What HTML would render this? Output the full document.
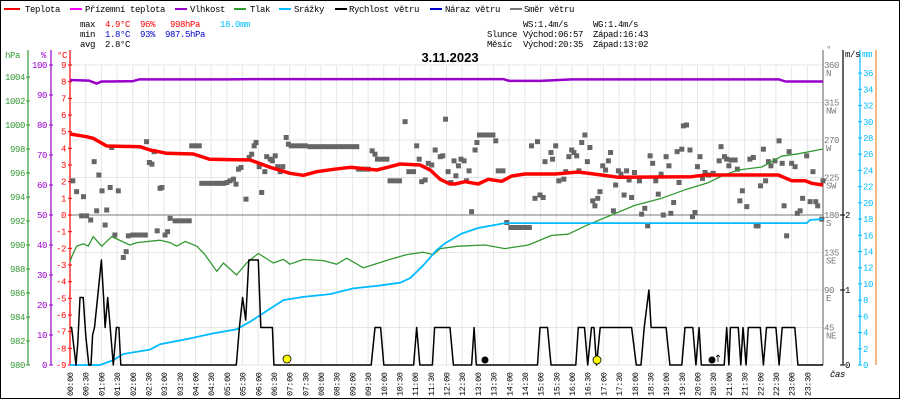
<!DOCTYPE html>
<html><head><meta charset="utf-8"><style>
html,body{margin:0;padding:0;background:#fff;}
svg{display:block;font-family:"Liberation Mono",monospace;}
.t{font-size:9px;letter-spacing:-0.4px;}
</style></head><body>
<svg id="chart" width="900" height="400" xmlns="http://www.w3.org/2000/svg">
<rect x="0.5" y="0.5" width="899" height="398" fill="#fff" stroke="#000"/>
<g id="grid"></g>
<g id="legend" class="t">
 <g><rect x="4" y="8" width="16" height="2" fill="#f00"/><text x="25" y="12">Teplota</text></g>
 <g><rect x="70" y="8" width="12" height="2" fill="#f0f"/><text x="85" y="12">Přízemní teplota</text></g>
 <g><rect x="175" y="8" width="12" height="2" fill="#90c"/><text x="190" y="12">Vlhkost</text></g>
 <g><rect x="234" y="8" width="12" height="2" fill="#393"/><text x="250" y="12">Tlak</text></g>
 <g><rect x="279" y="8" width="12" height="2" fill="#0bf"/><text x="294" y="12">Srážky</text></g>
 <g><rect x="335" y="8" width="12" height="2" fill="#000"/><text x="349" y="12">Rychlost větru</text></g>
 <g><rect x="430" y="8" width="12" height="2" fill="#00c"/><text x="445" y="12">Náraz větru</text></g>
 <g><rect x="510" y="8" width="12" height="2" fill="#777"/><text x="524" y="12">Směr větru</text></g>
</g>
<g class="t">
 <text x="80" y="27">max</text><text x="105" y="27" fill="#f00">4.9°C</text><text x="140" y="27" fill="#f00">96%</text><text x="170" y="27" fill="#f00">998hPa</text><text x="220" y="27" fill="#0bf">18.0mm</text>
 <text x="80" y="37">min</text><text x="105" y="37" fill="#00c">1.8°C</text><text x="140" y="37" fill="#00c">93%</text><text x="165" y="37" fill="#00c">987.5hPa</text>
 <text x="80" y="47">avg</text><text x="105" y="47">2.8°C</text>
 <text x="523" y="27">WS:1.4m/s</text><text x="593" y="27">WG:1.4m/s</text>
 <text x="487" y="37">Slunce</text><text x="523" y="37">Východ:06:57</text><text x="593" y="37">Západ:16:43</text>
 <text x="487" y="47">Měsíc</text><text x="523" y="47">Východ:20:35</text><text x="593" y="47">Západ:13:02</text>
</g>
<text x="450" y="62" text-anchor="middle" font-family="Liberation Sans,sans-serif" font-weight="bold" font-size="13">3.11.2023</text>
<g id="axes" class="t"></g>
<g id="series"></g>
<g>
 <circle cx="287" cy="359" r="4" fill="#ff0" stroke="#000" stroke-width="0.8"/>
 <circle cx="597" cy="360" r="4" fill="#ff0" stroke="#000" stroke-width="0.8"/>
 <circle cx="485" cy="360" r="3.5" fill="#000"/>
 <circle cx="712" cy="360" r="3.5" fill="#000"/>
 <path d="M718 362 L718 355 M716 357 L718 355 L720 357" stroke="#000" fill="none" stroke-width="0.8"/>
</g>
</svg>
<script>
const tempData=[[0,4.86],[0.53,4.7],[0.74,4.6],[1.17,4.14],[2.23,4.1],[2.55,3.9],[3.08,3.7],[3.93,3.66],[4.46,3.34],[5.74,3.3],[6.38,2.86],[7.01,2.5],[7.44,2.38],[7.86,2.6],[8.4,2.74],[8.93,2.86],[9.78,2.7],[10.2,2.9],[10.52,3.06],[11.16,3.0],[11.48,2.7],[11.8,2.14],[12.11,1.86],[12.27,1.86],[12.59,2.0],[13.01,1.86],[13.33,2.14],[13.76,2.02],[14.08,2.34],[14.5,2.46],[15.46,2.46],[16.2,2.58],[16.94,2.4],[17.48,2.26],[19.81,2.3],[20.24,2.4],[22.58,2.4],[23.0,2.06],[23.43,2.06],[23.64,1.9],[24,1.8]];
const humData=[[0,95],[0.6,94.8],[0.85,93.8],[1.0,94.5],[1.2,94.5],[2.0,94.6],[2.2,95.2],[5.0,95.2],[6.0,95.3],[9.0,95.3],[13.8,95.3],[14.0,94.7],[15.0,94.7],[16.0,95.2],[22.6,95.2],[22.8,94.5],[24,94.5]];
const presData=[[0,988.6],[0.05,989.0],[0.21,989.9],[0.43,990.1],[0.58,989.9],[0.74,990.7],[1.01,989.9],[1.33,990.7],[1.91,990.0],[2.13,990.2],[2.87,990.4],[3.19,990.2],[3.4,989.9],[3.67,990.3],[4.04,989.9],[4.3,989.2],[4.68,987.8],[4.89,988.5],[5.31,987.5],[5.63,988.5],[6.0,989.3],[6.48,988.5],[6.8,988.8],[7.01,988.4],[7.44,988.8],[8.08,988.7],[8.5,988.4],[8.82,988.9],[9.35,988.1],[10.2,988.8],[10.73,989.2],[11.26,989.4],[11.58,989.2],[11.8,989.7],[12.37,989.9],[13.23,990.0],[13.86,989.7],[14.61,990.0],[15.35,990.8],[15.88,990.9],[16.52,991.7],[17.26,992.5],[18.0,993.3],[18.86,993.9],[19.6,994.6],[20.35,995.2],[20.77,995.75],[21.3,996.25],[22.05,996.5],[22.68,997.4],[23.21,997.6],[24,998.0]];
const rainData=[[0,0],[0.96,0],[1.38,0.6],[1.7,1.36],[2.55,1.9],[2.87,2.55],[3.72,3.2],[4.57,3.9],[5.31,4.4],[5.74,5.34],[6.16,6.4],[6.8,8.0],[7.44,8.4],[8.29,8.75],[9.03,9.45],[9.78,9.75],[10.52,10.15],[10.84,10.7],[11.26,12.3],[11.69,14.2],[11.95,15.0],[12.48,16.2],[13.01,16.9],[13.86,17.5],[23.48,17.5],[23.59,17.9],[24,18.0]];
const windData=[[0,0.5],[0.05,0.5],[0.12,0.25],[0.19,0],[0.25,0.3],[0.32,0.9],[0.42,0.9],[0.5,0.4],[0.6,0],[0.67,0],[0.72,0.4],[0.78,0.5],[0.88,0.9],[1.0,1.4],[1.07,0.9],[1.12,0.5],[1.2,0.9],[1.28,0.5],[1.38,0],[1.48,0.5],[1.56,0.5],[1.62,0],[5.3,0],[5.4,0.5],[5.5,0.9],[5.6,0.6],[5.7,1.4],[6.0,1.4],[6.08,0.5],[6.45,0.5],[6.5,0],[9.6,0],[9.72,0.5],[9.9,0.5],[10.0,0],[10.95,0],[11.05,0.5],[11.15,0],[11.55,0],[11.62,0.5],[12.11,0.5],[12.22,0],[12.8,0],[12.88,0.5],[12.95,0],[14.9,0],[14.98,0.5],[15.22,0.5],[15.33,0],[16.12,0],[16.2,0.5],[16.4,0.5],[16.5,0],[16.62,0.5],[16.7,0.5],[16.78,0],[16.9,0.5],[17.9,0.5],[18.05,0],[18.2,0],[18.3,0.5],[18.45,1.0],[18.52,0.5],[19.0,0.5],[19.12,0],[19.5,0],[19.6,0.5],[19.85,0.5],[19.95,0],[20.05,0.5],[20.12,0],[20.85,0],[20.93,0.5],[21.0,0],[21.05,0.5],[21.3,0.5],[21.38,0],[21.45,0.5],[21.55,0],[21.62,0.5],[22.0,0.5],[22.1,0],[22.2,0.5],[22.5,0.5],[22.6,0],[22.7,0.5],[23.1,0.5],[23.2,0],[24,0]];
const dirData=[[0.09,221],[0.21,208],[0.43,202],[0.37,179],[0.53,179],[0.66,174],[0.77,244],[0.85,185],[0.92,228],[1.02,209],[1.12,168],[1.17,186],[1.28,213],[1.33,261],[1.43,156],[1.54,209],[1.7,129],[1.79,136],[1.86,155],[2.0,156],[2.1,156],[2.2,156],[2.3,156],[2.4,156],[2.44,268],[2.53,243],[2.61,241],[2.68,256],[2.78,161],[2.87,212],[2.93,213],[3.03,156],[3.11,160],[3.19,176],[3.35,173],[3.5,173],[3.65,173],[3.8,173],[3.88,263],[4.0,263],[4.12,263],[4.2,218],[4.35,218],[4.5,218],[4.65,218],[4.8,218],[4.9,218],[5.0,219],[5.1,221],[5.21,223],[5.29,217],[5.37,235],[5.45,237],[5.61,199],[5.71,249],[5.79,253],[5.87,263],[5.93,267],[6.03,238],[6.11,207],[6.21,232],[6.27,250],[6.38,247],[6.45,245],[6.54,251],[6.62,238],[6.7,232],[6.78,238],[6.89,273],[6.96,265],[7.05,263],[7.2,263],[7.35,263],[7.5,263],[7.65,262],[7.8,262],[7.95,262],[8.1,262],[8.25,262],[8.4,262],[8.55,262],[8.7,262],[8.85,262],[9.0,262],[9.14,262],[9.2,235],[9.35,235],[9.5,235],[9.63,257],[9.72,253],[9.8,247],[9.95,247],[10.1,247],[10.2,221],[10.35,221],[10.5,221],[10.68,292],[10.8,232],[10.95,232],[11.05,263],[11.13,247],[11.21,220],[11.32,222],[11.42,242],[11.53,240],[11.64,258],[11.8,250],[11.88,251],[11.97,295],[12.05,232],[12.14,219],[12.24,245],[12.3,227],[12.38,239],[12.46,247],[12.56,245],[12.64,221],[12.72,233],[12.8,184],[12.91,258],[12.97,267],[13.05,276],[13.2,276],[13.35,276],[13.48,276],[13.57,269],[13.65,233],[13.8,233],[13.92,171],[14.05,165],[14.2,165],[14.35,165],[14.5,165],[14.64,165],[14.71,263],[14.82,200],[14.9,268],[14.98,204],[15.08,201],[15.14,244],[15.33,255],[15.38,247],[15.48,263],[15.58,221],[15.74,223],[15.8,232],[15.9,250],[15.99,258],[16.06,255],[16.15,251],[16.22,233],[16.31,267],[16.41,276],[16.49,244],[16.57,261],[16.66,197],[16.73,191],[16.82,200],[16.89,208],[16.98,239],[17.07,234],[17.16,245],[17.23,255],[17.32,185],[17.39,216],[17.48,233],[17.56,229],[17.66,204],[17.74,233],[17.82,222],[17.9,201],[17.99,231],[18.15,221],[18.22,181],[18.32,188],[18.41,167],[18.49,251],[18.57,242],[18.67,221],[18.75,205],[18.84,229],[18.91,180],[19.0,250],[19.09,239],[19.15,182],[19.24,195],[19.35,256],[19.41,219],[19.5,259],[19.55,287],[19.65,288],[19.76,258],[19.84,178],[19.92,183],[20.0,238],[20.08,250],[20.16,224],[20.24,231],[20.35,228],[20.5,230],[20.69,245],[20.75,262],[20.86,250],[20.93,247],[21.0,239],[21.07,246],[21.2,246],[21.27,235],[21.35,197],[21.43,209],[21.57,190],[21.67,247],[21.78,249],[21.87,167],[21.93,167],[22.01,215],[22.1,259],[22.17,221],[22.26,244],[22.34,239],[22.47,245],[22.6,269],[22.7,242],[22.76,191],[22.84,155],[22.92,256],[23.0,242],[23.11,238],[23.18,182],[23.27,185],[23.35,200],[23.48,251],[23.59,196],[23.68,232],[23.77,196],[23.83,191],[23.96,175],[24.0,221]];
const hpaTicks=[980,982,984,986,988,990,992,994,996,998,1000,1002,1004];
const pctTicks=[0,10,20,30,40,50,60,70,80,90,100];
const cTicks=[-9,-8,-7,-6,-5,-4,-3,-2,-1,0,1,2,3,4,5,6,7,8,9];
const dirTicks=[[360,'N'],[315,'NW'],[270,'W'],[225,'SW'],[180,'S'],[135,'SE'],[90,'E'],[45,'NE']];
const msTicks=[0,1,2];
const mmTicks=[0,2,4,6,8,10,12,14,16,18,20,22,24,26,28,30,32,34,36];

const X0=70,X1=823,Y0=65,Y1=365;
const xS=h=>X0+h*(X1-X0)/24;
const yC=c=>215-c*(300/18);
const yP=p=>Y1-(p-980)*12;
const yH=v=>Y1-v*3;
const yD=d=>Y1-d*(300/360);
const yM=v=>Y1-v*75;
const yR=v=>Y1-v*(300/37);
const NS='http://www.w3.org/2000/svg';
function mk(tag,attrs,parent,txt){const e=document.createElementNS(NS,tag);for(const k in attrs)e.setAttribute(k,attrs[k]);if(txt!==undefined)e.textContent=txt;parent.appendChild(e);return e;}
const grid=document.getElementById('grid'),axes=document.getElementById('axes'),ser=document.getElementById('series');
// grid
for(let i=0;i<=48;i++){const x=xS(i/2);const l=mk('line',{x1:x,x2:x,y1:Y0,y2:Y1,stroke:'#e6e6e6'},grid);

}
for(let d=0;d<=360;d+=45){const y=yD(d);const l=mk('line',{x1:X0,x2:X1,y1:y,y2:y,stroke:d==180?'#777':'#e6e6e6'},grid);

}
// axis lines
[[28,'#393'],[51,'#90c'],[70,'#f00'],[823,'#777'],[843,'#000'],[860,'#0bf'],[876,'#e83']].forEach(a=>{const l=mk('line',{x1:a[0],x2:a[0],y1:50,y2:Y1,stroke:a[1],'stroke-width':1.2},axes);

});
function lab(x,y,t,col,anchor,name){const e=mk('text',{x:x,y:y,fill:col,'text-anchor':anchor},axes,t);

return e;}
lab(5,58,'hPa','#393','start','hpa-axis-title');
lab(46,58,'%','#90c','end','humidity-axis-title');
lab(67,58,'°C','#f00','end','temp-axis-title');
lab(826,52,'°','#777','start','direction-axis-title');
lab(845,57,'m/s','#000','start','wind-axis-title');
lab(862,57,'mm','#0bf','start','rain-axis-title');
lab(830,377,'čas','#000','start','time-axis-title').setAttribute('font-style','italic');
hpaTicks.forEach(v=>{const y=yP(v);lab(25,y+3,String(v),'#393','end','hpa-tick-label');mk('line',{x1:26,x2:30,y1:y,y2:y,stroke:'#393'},axes);});
pctTicks.forEach(v=>{const y=yH(v);lab(47,y+3,String(v),'#90c','end','humidity-tick-label');mk('line',{x1:49,x2:53,y1:y,y2:y,stroke:'#90c'},axes);});
cTicks.forEach(v=>{const y=yC(v);lab(66,y+3,String(v),'#f00','end','temp-tick-label');mk('line',{x1:68,x2:72,y1:y,y2:y,stroke:'#f00'},axes);});
dirTicks.forEach(v=>{const y=yD(v[0]);lab(824,y+3,String(v[0]),'#777','start','direction-tick-label');lab(826,y+11,v[1],'#777','start','direction-tick-label');});
msTicks.forEach(v=>{const y=yM(v);lab(845,y+3,String(v),'#000','start','wind-tick-label');mk('line',{x1:840,x2:845,y1:y,y2:y,stroke:'#000'},axes);});
mmTicks.forEach(v=>{const y=yR(v);lab(863,y+3,String(v),'#0bf','start','rain-tick-label');mk('line',{x1:858,x2:862,y1:y,y2:y,stroke:'#0bf'},axes);});
for(let i=0;i<48;i++){const x=xS(i/2);const h=Math.floor(i/2),m=i%2?'30':'00';
const t=mk('text',{x:0,y:0,transform:'translate('+(x+3)+',396) rotate(-90)','font-size':'8.5'},axes,(h<10?'0':'')+h+':'+m);

}
// series
function line(data,yf,col,w,name){const p=mk('polyline',{points:data.map(d=>xS(d[0]).toFixed(1)+','+yf(d[1]).toFixed(1)).join(' '),fill:'none',stroke:col,'stroke-width':w,'stroke-linejoin':'round'},ser);

}
const dg=mk('g',{},ser);


dirData.forEach(d=>{const r=mk('rect',{x:xS(d[0])-2.5,y:yD(d[1])-2.5,width:5,height:5,fill:'#666'},dg);

});
line(humData,yH,'#90c',2.5,'humidity-line');
line(presData,yP,'#393',1.3,'pressure-line');
line(rainData,yR,'#0bf',1.8,'rain-line');
line(tempData,yC,'#f00',3.5,'temperature-line');
line(windData,yM,'#000',1.5,'wind-speed-line');
</script>
</body></html>
